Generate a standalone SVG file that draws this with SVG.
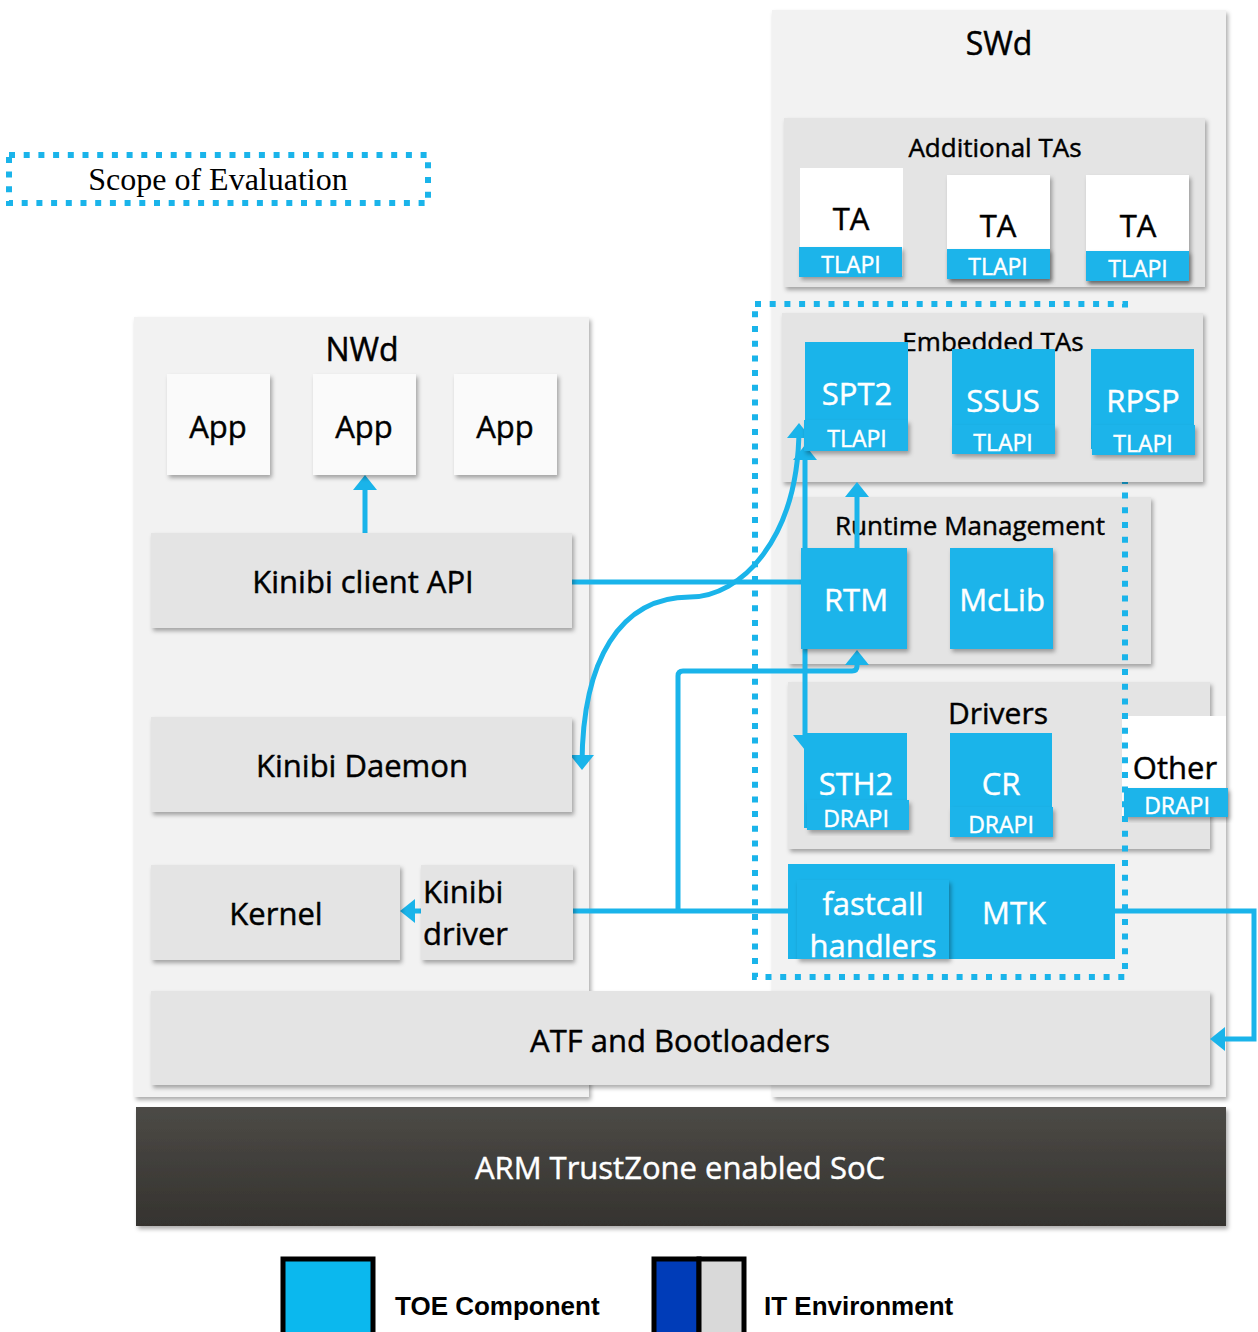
<svg xmlns="http://www.w3.org/2000/svg" width="1258" height="1332" viewBox="0 0 1258 1332">
<defs>
<style>
.t{font-family:'Open Sans','Noto Sans',sans-serif;text-anchor:middle;stroke-width:0.45px}
.b{fill:#000;stroke:#000}
.w{fill:#fff;stroke:#fff}
.blue{fill:#1ab4ea}
.grey{fill:#e4e4e4}
.cont{fill:#f2f2f2}
.white{fill:#fff}
.app{fill:#fafafa}
.sh{filter:url(#sh)}
.c{fill:none;stroke:#1ab4ea;stroke-width:5}
.dot{fill:none;stroke:#1ab4ea;stroke-width:6;stroke-dasharray:6 8.7}
.lg{font-family:'Liberation Sans',Arial,sans-serif;font-weight:bold;font-size:26px;fill:#000}
</style>
<filter id="sh" x="-10%" y="-10%" width="130%" height="130%">
<feDropShadow dx="2" dy="3" stdDeviation="2" flood-color="#000" flood-opacity="0.33"/>
</filter>
<linearGradient id="soc" x1="0" y1="0" x2="0" y2="1">
<stop offset="0" stop-color="#4c4a46"/>
<stop offset="1" stop-color="#35332f"/>
</linearGradient>
<marker id="ah" viewBox="0 0 15 24" markerWidth="15" markerHeight="24" refX="11" refY="12" markerUnits="userSpaceOnUse" orient="auto-start-reverse">
<path d="M0,0 L15,12 L0,24 z" fill="#1ab4ea"/>
</marker>
</defs>
<rect width="1258" height="1332" fill="#fff"/>

<g id="legend-scope">
<rect x="9" y="155" width="419" height="48" class="dot"/>
<text x="218" y="190" style="font-family:'Liberation Serif','Times New Roman',serif;font-size:32px;text-anchor:middle;fill:#000">Scope of Evaluation</text>
</g>

<g id="nwd">
<rect x="134" y="317" width="455" height="780" class="cont sh"/>
<text x="362" y="361" class="t b" font-size="32">NWd</text>
</g>

<g id="swd">
<rect x="772" y="10" width="454" height="1087" class="cont sh"/>
<text x="999" y="55" class="t b" font-size="32">SWd</text>
</g>

<g id="additional-tas">
<rect x="784" y="118" width="421" height="169" class="grey sh"/>
<text x="995" y="157" class="t b" font-size="26">Additional TAs</text>
</g>
<g id="ta1">
<rect x="800" y="168" width="103" height="108" class="white"/>
<rect x="799" y="247" width="103" height="30" class="blue sh"/>
<text x="851" y="230" class="t b" font-size="31">TA</text>
<text x="851" y="273" class="t w" font-size="23">TLAPI</text>
</g>
<g id="ta2">
<rect x="947" y="175" width="103" height="104" class="white sh"/>
<rect x="947" y="249" width="103" height="30" class="blue sh"/>
<text x="998" y="237" class="t b" font-size="31">TA</text>
<text x="998" y="275" class="t w" font-size="23">TLAPI</text>
</g>
<g id="ta3">
<rect x="1086" y="175" width="103" height="106" class="white sh"/>
<rect x="1086" y="251" width="103" height="30" class="blue sh"/>
<text x="1138" y="237" class="t b" font-size="31">TA</text>
<text x="1138" y="277" class="t w" font-size="23">TLAPI</text>
</g>

<g id="runtime-management">
<rect x="788" y="497" width="363" height="167" class="grey sh"/>
<text x="970" y="535" class="t b" font-size="26">Runtime Management</text>
</g>

<g id="drivers">
<rect x="788" y="682" width="422" height="167" class="grey sh"/>
<text x="998" y="724" class="t b" font-size="30">Drivers</text>
</g>

<g id="other">
<rect x="1122" y="716" width="104" height="101" class="white"/>
<rect x="1124" y="788" width="104" height="29" class="blue sh"/>
<text x="1175" y="779" class="t b" font-size="31">Other</text>
<text x="1177" y="814" class="t w" font-size="23">DRAPI</text>
</g>

<g id="scope-of-evaluation">
<rect x="755" y="304" width="370" height="673" class="dot"/>
</g>

<g id="embedded-tas">
<rect x="782" y="313" width="421" height="169" class="grey sh"/>
<text x="993" y="351" class="t b" font-size="26">Embedded TAs</text>
</g>

<g id="atf">
<rect x="151" y="991" width="1059" height="94" class="grey sh"/>
<text x="680" y="1052" class="t b" font-size="31">ATF and Bootloaders</text>
</g>

<g id="soc">
<rect x="136" y="1107" width="1090" height="119" fill="url(#soc)" class="sh"/>
<text x="680" y="1179" class="t w" font-size="31">ARM TrustZone enabled SoC</text>
</g>

<g id="connectors">
<path class="c" d="M365,533 L365,479" marker-end="url(#ah)"/>
<path class="c" d="M572,582 L805,582"/>
<path class="c" d="M582,766 C582,660 620,597 690,597 C740,597 799,540 799,427" marker-start="url(#ah)" marker-end="url(#ah)"/>
<path class="c" d="M805,449 L805,746" marker-start="url(#ah)" marker-end="url(#ah)"/>
<path class="c" d="M857,548 L857,486" marker-end="url(#ah)"/>
<path class="c" d="M790,911 L404,911" marker-end="url(#ah)"/>
<path class="c" d="M678,911 L678,676 Q678,671 683,671 L852,671 Q857,671 857,666 L857,654" marker-end="url(#ah)"/>
<path class="c" d="M1113,911 L1254,911 L1254,1039 L1214,1039" marker-end="url(#ah)"/>
</g>

<g id="app1">
<rect x="167" y="374" width="103" height="101" class="app sh"/>
<text x="218" y="438" class="t b" font-size="31">App</text>
</g>
<g id="app2">
<rect x="313" y="374" width="103" height="101" class="app sh"/>
<text x="364" y="438" class="t b" font-size="31">App</text>
</g>
<g id="app3">
<rect x="454" y="374" width="103" height="101" class="app sh"/>
<text x="505" y="438" class="t b" font-size="31">App</text>
</g>
<g id="kinibi-client-api">
<rect x="151" y="533" width="421" height="95" class="grey sh"/>
<text x="363" y="593" class="t b" font-size="31">Kinibi client API</text>
</g>
<g id="kinibi-daemon">
<rect x="151" y="717" width="421" height="95" class="grey sh"/>
<text x="362" y="777" class="t b" font-size="31">Kinibi Daemon</text>
</g>
<g id="kernel">
<rect x="151" y="865" width="249" height="95" class="grey sh"/>
<text x="276" y="925" class="t b" font-size="31">Kernel</text>
</g>
<g id="kinibi-driver">
<rect x="421" y="865" width="152" height="95" class="grey sh"/>
<text x="423" y="903" class="t b" font-size="31" style="text-anchor:start">Kinibi</text>
<text x="423" y="945" class="t b" font-size="31" style="text-anchor:start">driver</text>
</g>

<g id="spt2">
<rect x="805" y="342" width="103" height="103" class="blue"/>
<rect x="804" y="420" width="104" height="31" class="blue sh"/>
<text x="857" y="405" class="t w" font-size="31">SPT2</text>
<text x="857" y="447" class="t w" font-size="23">TLAPI</text>
</g>
<g id="ssus">
<rect x="952" y="349" width="103" height="100" class="blue"/>
<rect x="952" y="425" width="103" height="29" class="blue sh"/>
<text x="1003" y="412" class="t w" font-size="31">SSUS</text>
<text x="1003" y="451" class="t w" font-size="23">TLAPI</text>
</g>
<g id="rpsp">
<rect x="1091" y="349" width="103" height="100" class="blue"/>
<rect x="1092" y="425" width="103" height="30" class="blue sh"/>
<text x="1143" y="412" class="t w" font-size="31">RPSP</text>
<text x="1143" y="452" class="t w" font-size="23">TLAPI</text>
</g>
<g id="rtm">
<rect x="801" y="548" width="106" height="101" class="blue sh"/>
<text x="856" y="611" class="t w" font-size="31">RTM</text>
</g>
<g id="mclib">
<rect x="950" y="548" width="103" height="101" class="blue sh"/>
<text x="1002" y="611" class="t w" font-size="31">McLib</text>
</g>
<g id="sth2">
<rect x="804" y="733" width="103" height="95" class="blue"/>
<rect x="807" y="800" width="102" height="30" class="blue sh"/>
<text x="856" y="795" class="t w" font-size="31">STH2</text>
<text x="856" y="827" class="t w" font-size="23">DRAPI</text>
</g>
<g id="cr">
<rect x="950" y="733" width="102" height="100" class="blue"/>
<rect x="950" y="807" width="103" height="30" class="blue sh"/>
<text x="1001" y="795" class="t w" font-size="31">CR</text>
<text x="1001" y="833" class="t w" font-size="23">DRAPI</text>
</g>
<g id="mtk">
<rect x="788" y="864" width="327" height="95" class="blue"/>
<text x="1014" y="924" class="t w" font-size="31">MTK</text>
</g>
<g id="fastcall-handlers">
<rect x="797" y="880" width="152" height="79" class="blue sh"/>
<text x="873" y="915" class="t w" font-size="31">fastcall</text>
<text x="873" y="957" class="t w" font-size="31">handlers</text>
</g>

<g id="legend">
<rect x="283" y="1259" width="90" height="80" fill="#0bb8ee" stroke="#000" stroke-width="5"/>
<text x="395" y="1315" class="lg">TOE Component</text>
<rect x="654" y="1259" width="45" height="80" fill="#003cb8" stroke="#000" stroke-width="5"/>
<rect x="699" y="1259" width="45" height="80" fill="#d9d9d9" stroke="#000" stroke-width="5"/>
<text x="764" y="1315" class="lg">IT Environment</text>
</g>
</svg>
